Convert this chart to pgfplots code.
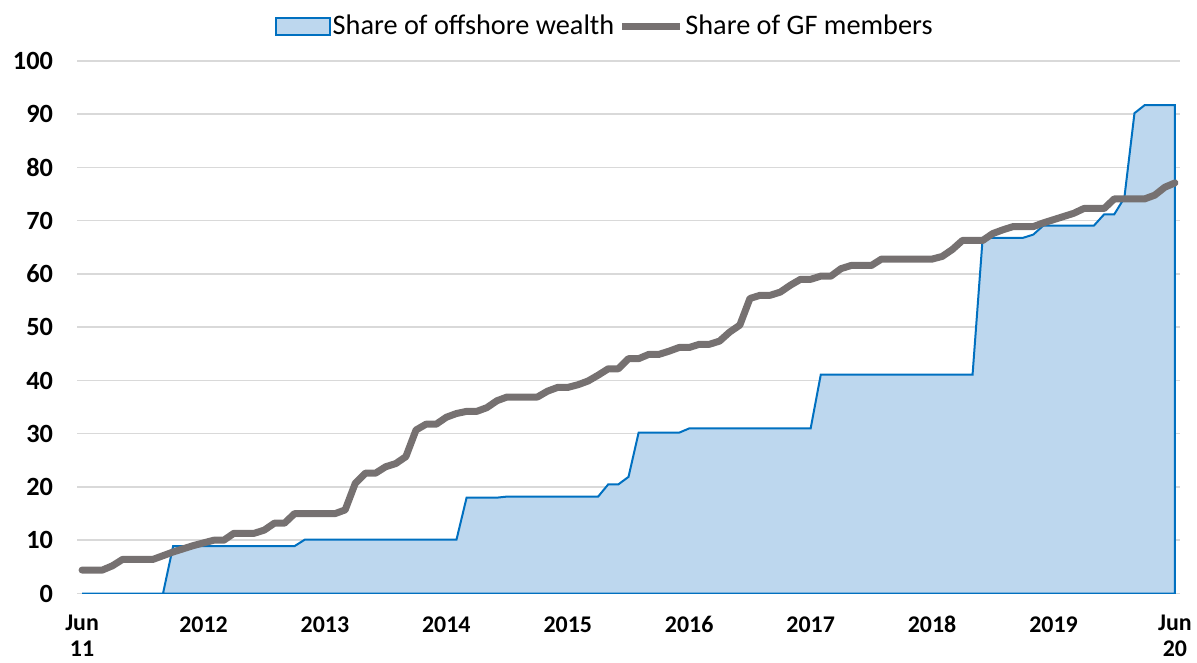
\documentclass[border=0pt]{standalone}
\usepackage{fontspec}
\setmainfont{Carlito}
\usepackage{pgfplots}
\pgfplotsset{compat=1.18}
\usepackage{pgfplotstable}
\definecolor{areafill}{HTML}{BDD7EE}
\definecolor{areaedge}{HTML}{0070C0}
\definecolor{gfgray}{HTML}{767171}
\definecolor{gridc}{HTML}{D9D9D9}
\pgfplotsset{
  arealeg/.style={legend image code/.code={\draw[##1] (0bp,-4.25bp) rectangle (27bp,4.25bp);}},
  lineleg/.style={legend image code/.code={\draw[##1, line cap=butt] (0bp,0bp) -- (29bp,0bp);}},
}
\pgfplotstableread{
m w g
0 0 4.4
1 0 4.4
2 0 4.4
3 0 5.2
4 0 6.4
5 0 6.4
6 0 6.4
7 0 6.4
8 0 7.1
9 8.9 7.8
10 8.9 8.4
11 8.9 9.0
12 8.9 9.5
13 8.9 10.0
14 8.9 10.0
15 8.9 11.3
16 8.9 11.3
17 8.9 11.3
18 8.9 11.9
19 8.9 13.2
20 8.9 13.2
21 8.9 15.0
22 10.1 15.0
23 10.1 15.0
24 10.1 15.0
25 10.1 15.0
26 10.1 15.7
27 10.1 20.7
28 10.1 22.6
29 10.1 22.6
30 10.1 23.8
31 10.1 24.4
32 10.1 25.7
33 10.1 30.7
34 10.1 31.8
35 10.1 31.8
36 10.1 33.1
37 10.1 33.8
38 18.0 34.2
39 18.0 34.2
40 18.0 34.9
41 18.0 36.2
42 18.2 36.9
43 18.2 36.9
44 18.2 36.9
45 18.2 36.9
46 18.2 38.0
47 18.2 38.7
48 18.2 38.7
49 18.2 39.2
50 18.2 39.9
51 18.2 41.0
52 20.5 42.2
53 20.5 42.2
54 21.9 44.1
55 30.2 44.1
56 30.2 44.9
57 30.2 44.9
58 30.2 45.5
59 30.2 46.2
60 31.0 46.2
61 31.0 46.8
62 31.0 46.8
63 31.0 47.4
64 31.0 49.1
65 31.0 50.4
66 31.0 55.4
67 31.0 56.0
68 31.0 56.0
69 31.0 56.6
70 31.0 57.9
71 31.0 59.0
72 31.0 59.0
73 41.1 59.6
74 41.1 59.6
75 41.1 61.0
76 41.1 61.6
77 41.1 61.6
78 41.1 61.6
79 41.1 62.8
80 41.1 62.8
81 41.1 62.8
82 41.1 62.8
83 41.1 62.8
84 41.1 62.8
85 41.1 63.3
86 41.1 64.6
87 41.1 66.3
88 41.1 66.3
89 66.8 66.3
90 66.8 67.6
91 66.8 68.3
92 66.8 68.9
93 66.8 68.9
94 67.4 68.9
95 69.1 69.6
96 69.1 70.2
97 69.1 70.8
98 69.1 71.4
99 69.1 72.3
100 69.1 72.3
101 71.2 72.3
102 71.2 74.1
103 74.3 74.1
104 90.2 74.1
105 91.7 74.1
106 91.7 74.8
107 91.7 76.3
108 91.7 77.1
}\data
\begin{document}
\begin{tikzpicture}
\useasboundingbox (-38.5bp,-34.75bp) rectangle (560bp,296.75bp);
\begin{axis}[
  scale only axis, width=551.5bp, height=266.25bp,
  xmin=-0.5, xmax=108.5, ymin=0, ymax=100,
  axis line style={draw=none},
  major tick length=0pt,
  ymajorgrids, grid style={gridc, line width=0.75bp},
  xtick={0,12,...,108},
  xticklabels={{Jun\\11},2012,2013,2014,2015,2016,2017,2018,2019,{Jun\\20}},
  ytick={0,10,...,100},
  /pgf/number format/assume math mode=true,
  xticklabel style={font=\bfseries\fontsize{12}{13.2}\selectfont, align=center,
    execute at begin node={\rule{0pt}{9bp}}, yshift=-7bp},
  yticklabel style={font=\bfseries\fontsize{13.2}{14}\selectfont, xshift=-8.5bp},
  legend columns=2,
  legend style={draw=none, fill=none, at={(0.4784,1.0657)}, anchor=center,
    font=\fontsize{14.2}{16}\selectfont, inner sep=0pt,
    nodes={inner sep=1bp},
    /tikz/every even column/.append style={column sep=1bp}},
]
\addplot[fill=areafill, draw=areaedge, line width=1bp, arealeg]
  table[x=m, y=w] {\data} \closedcycle;
\addlegendentry{Share of offshore wealth}
\addplot[gfgray, line width=3.5bp, line join=round, line cap=round, lineleg]
  table[x=m, y=g] {\data};
\addlegendentry{Share of GF members}
\end{axis}
\end{tikzpicture}
\end{document}
